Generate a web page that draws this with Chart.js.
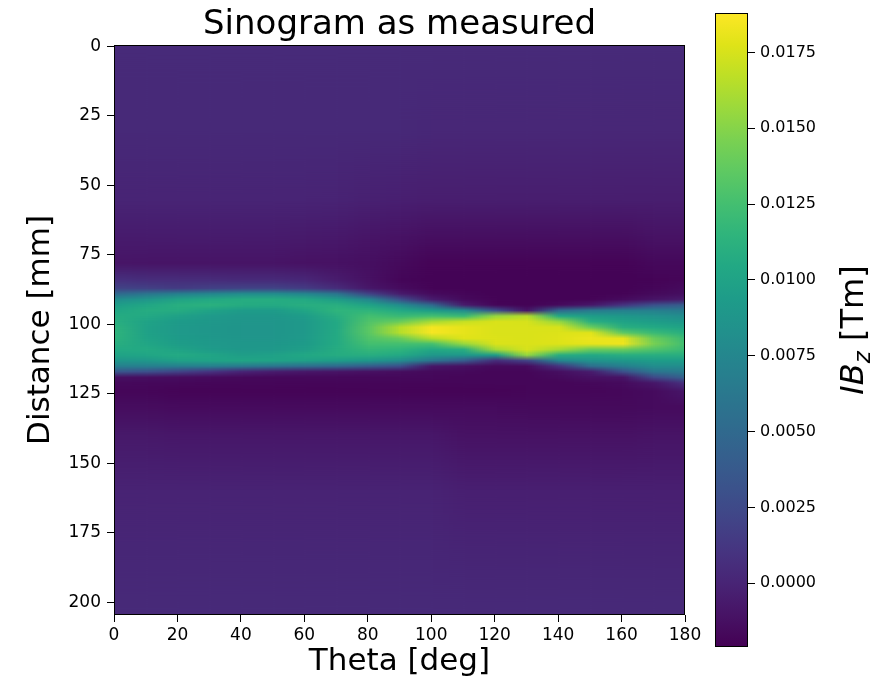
<!DOCTYPE html>
<html>
<head>
<meta charset="utf-8">
<script src="https://cdn.jsdelivr.net/npm/chart.js@4.4.0/dist/chart.umd.min.js"></script>
<style>
  html, body { margin: 0; padding: 0; background: #fff; }
  #wrap { position: relative; width: 879px; height: 684px; overflow: hidden; }
  #wrap canvas { position: absolute; top: 0; }
  #sino { left: 0; }
  #cbar { left: 690px; }
</style>
</head>
<body>
<div id="wrap">
  <canvas id="sino" width="879" height="684"></canvas>
  <canvas id="cbar" width="189" height="684"></canvas>
</div>
<script>
// Sinogram: one column per projection angle,
// one value per distance row. Values are in 1e-3 Tm.
const THETA = [0, 10, 20, 30, 40, 50, 60, 70, 80, 90, 100, 110, 120, 130, 140, 150, 160, 170, 180];
const DIST = [-0.5, 30, 55, 70, 78, 84, 87, 89, 91, 93, 95, 97, 99, 101, 103, 105, 107, 109, 111, 113, 115, 117, 119, 121, 124, 130, 140, 160, 204.5];
const UNIT = 1e-3;
const IBZ = [
  [0.4, 0.3, 0.0, -0.6, -0.9, 0.8, 2.0, 5.0, 8.0, 9.5, 10.3, 10.8, 11.0, 11.3, 11.5, 11.3, 11.0, 10.6, 10.0, 8.8, 7.0, 3.5, -1.2, -1.6, -1.8, -1.4, -0.7, -0.1, 0.4],
  [0.4, 0.3, 0.0, -0.6, -1.0, 0.6, 1.8, 6.0, 8.8, 10.3, 10.8, 10.5, 10.0, 9.8, 9.8, 10.0, 10.3, 10.6, 10.3, 9.0, 7.0, 3.0, -1.3, -1.7, -1.8, -1.4, -0.7, -0.1, 0.4],
  [0.4, 0.3, 0.0, -0.6, -1.0, 0.6, 1.5, 7.0, 10.0, 11.0, 10.8, 9.8, 9.3, 9.2, 9.2, 9.3, 9.5, 10.0, 10.6, 9.8, 7.0, 2.0, -1.4, -1.7, -1.9, -1.5, -0.8, -0.1, 0.4],
  [0.4, 0.3, 0.0, -0.6, -1.0, 0.5, 1.8, 7.5, 10.5, 11.2, 10.0, 9.2, 9.0, 8.9, 8.9, 9.0, 9.1, 9.3, 10.2, 10.0, 7.0, 1.0, -1.5, -1.8, -1.9, -1.5, -0.8, -0.1, 0.4],
  [0.4, 0.3, 0.0, -0.6, -1.0, 0.4, 2.0, 8.0, 10.8, 10.8, 9.4, 8.9, 8.8, 8.7, 8.7, 8.8, 8.9, 9.0, 9.6, 10.2, 6.5, 0.0, -1.6, -1.8, -1.9, -1.5, -0.8, -0.1, 0.4],
  [0.4, 0.3, 0.0, -0.6, -1.0, 0.4, 2.0, 8.0, 10.8, 10.6, 9.3, 8.9, 8.8, 8.8, 8.8, 8.8, 8.9, 9.1, 9.8, 10.0, 6.0, -0.5, -1.7, -1.8, -1.9, -1.5, -0.8, -0.1, 0.4],
  [0.4, 0.3, 0.0, -0.7, -1.1, 0.2, 1.5, 7.5, 10.5, 11.0, 10.3, 9.4, 9.1, 9.1, 9.1, 9.2, 9.3, 9.6, 10.4, 9.8, 5.5, -0.8, -1.7, -1.8, -1.9, -1.5, -0.8, -0.1, 0.4],
  [0.4, 0.3, -0.1, -0.8, -1.2, -0.5, 0.5, 6.0, 9.5, 11.0, 11.5, 11.0, 10.5, 10.5, 10.6, 10.6, 10.6, 10.8, 10.8, 9.5, 5.0, -1.0, -1.7, -1.8, -1.9, -1.5, -0.8, -0.1, 0.4],
  [0.4, 0.3, -0.2, -1.0, -1.3, -1.2, -0.8, 2.0, 7.5, 10.0, 11.5, 12.5, 13.0, 13.4, 13.4, 13.0, 12.5, 11.8, 11.0, 9.0, 4.0, -1.2, -1.7, -1.8, -1.9, -1.5, -0.8, -0.1, 0.4],
  [0.4, 0.3, -0.3, -1.2, -1.6, -1.8, -1.5, -0.5, 3.0, 8.0, 10.5, 12.0, 14.0, 16.5, 16.5, 14.0, 12.5, 11.5, 10.5, 8.0, 3.0, -1.4, -1.7, -1.8, -1.9, -1.5, -0.8, -0.1, 0.4],
  [0.4, 0.2, -0.4, -1.4, -1.9, -2.0, -1.9, -1.5, -0.5, 5.0, 9.5, 12.5, 16.0, 18.5, 18.6, 16.5, 12.5, 10.5, 9.0, 6.0, -0.8, -1.6, -1.7, -1.8, -1.9, -1.5, -0.8, -0.1, 0.4],
  [0.4, 0.2, -0.4, -1.4, -1.9, -2.0, -2.0, -1.8, -1.6, -0.5, 8.0, 12.0, 17.0, 18.0, 18.0, 17.8, 15.5, 11.0, 9.0, 4.0, -1.2, -1.7, -1.8, -1.8, -1.9, -1.5, -1.1, -0.3, 0.4],
  [0.4, 0.2, -0.4, -1.4, -1.9, -2.0, -2.0, -2.0, -1.9, -1.8, 3.0, 15.5, 17.6, 17.6, 17.6, 17.7, 17.6, 16.0, 9.5, 0.5, -1.6, -1.8, -1.8, -1.8, -1.9, -1.5, -1.1, -0.3, 0.4],
  [0.4, 0.2, -0.4, -1.4, -1.9, -2.0, -2.0, -2.0, -2.0, -2.0, -1.0, 16.5, 17.5, 17.6, 17.6, 17.6, 17.6, 17.5, 15.5, 2.0, -1.5, -1.8, -1.8, -1.8, -1.8, -1.6, -1.1, -0.3, 0.4],
  [0.4, 0.2, -0.4, -1.4, -1.9, -2.0, -2.0, -2.0, -2.0, -1.5, 5.0, 10.5, 15.5, 17.5, 17.7, 17.8, 17.7, 16.0, 11.0, 7.5, 1.0, -1.3, -1.6, -1.8, -1.8, -1.6, -1.1, -0.3, 0.4],
  [0.4, 0.2, -0.4, -1.4, -1.9, -2.0, -2.0, -2.0, -1.9, -0.8, 6.5, 9.5, 11.0, 14.0, 17.8, 18.2, 18.0, 14.0, 10.5, 8.5, 5.5, -0.5, -1.2, -1.7, -1.8, -1.6, -1.1, -0.3, 0.4],
  [0.4, 0.2, -0.4, -1.4, -1.9, -2.0, -2.0, -1.9, -1.5, 1.0, 7.0, 9.0, 10.0, 11.0, 13.5, 18.0, 18.3, 14.0, 11.0, 9.0, 7.0, 3.0, -1.0, -1.5, -1.7, -1.6, -1.1, -0.3, 0.4],
  [0.4, 0.2, -0.4, -1.2, -1.7, -1.9, -1.8, -1.6, -1.0, 3.0, 7.0, 8.5, 9.5, 10.5, 12.0, 14.0, 14.5, 13.0, 11.0, 9.5, 8.0, 6.0, 2.5, -0.8, -1.5, -1.5, -1.0, -0.3, 0.4],
  [0.4, 0.2, -0.4, -1.2, -1.7, -1.8, -1.5, -1.3, -0.5, 4.0, 6.5, 8.0, 9.0, 10.0, 11.0, 12.0, 12.3, 12.0, 11.0, 9.5, 8.0, 6.5, 4.5, 1.0, -0.8, -1.5, -1.0, -0.3, 0.4]
];

const X_TICKS = [0, 20, 40, 60, 80, 100, 120, 140, 160, 180];
const Y_TICKS = [0, 25, 50, 75, 100, 125, 150, 175, 200];
const CBAR_TICKS = [0, 0.0025, 0.005, 0.0075, 0.01, 0.0125, 0.015, 0.0175];
const VMIN = -0.0021;
const VMAX = 0.0188;

const FONT = "'DejaVu Sans', sans-serif";

// viridis colormap, sampled every 5 %
const VIRIDIS = [
  '#440154', '#471365', '#482475', '#463480', '#414487', '#3b528b', '#355f8d',
  '#2f6c8e', '#2a788e', '#25848e', '#21918c', '#1e9c89', '#22a884', '#2fb47c',
  '#44bf70', '#5ec962', '#7ad151', '#9bd93c', '#bddf26', '#dfe318', '#fde725'
];

function hexToRgb(h) {
  const n = parseInt(h.slice(1), 16);
  return [(n >> 16) & 255, (n >> 8) & 255, n & 255];
}

function viridis(v) {
  let t = (v - VMIN) / (VMAX - VMIN);
  t = Math.min(1, Math.max(0, t)) * (VIRIDIS.length - 1);
  const i = Math.min(Math.floor(t), VIRIDIS.length - 2);
  const f = t - i;
  const a = hexToRgb(VIRIDIS[i]);
  const b = hexToRgb(VIRIDIS[i + 1]);
  const c = a.map((av, k) => Math.round(av + (b[k] - av) * f));
  return `rgb(${c[0]},${c[1]},${c[2]})`;
}

function drawFrame(ctx, a) {
  ctx.save();
  ctx.strokeStyle = '#000';
  ctx.lineWidth = 1;
  ctx.strokeRect(a.left + 0.5, a.top + 0.5, a.right - a.left - 1, a.bottom - a.top - 1);
  ctx.restore();
}

// Paints the sinogram cells behind the frame, using the chart's own scales
const heatmapPlugin = {
  id: 'heatmap',
  beforeDatasetsDraw(chart) {
    const { ctx, chartArea: a, scales: { x, y } } = chart;
    const h = Math.round(a.bottom - a.top);
    const off = document.createElement('canvas');
    off.width = THETA.length;
    off.height = h;
    const octx = off.getContext('2d');
    const y0 = y.getPixelForValue(DIST[0]) - a.top;
    const y1 = y.getPixelForValue(DIST[DIST.length - 1]) - a.top;

    THETA.forEach((t, i) => {
      const g = octx.createLinearGradient(0, y0, 0, y1);
      DIST.forEach((d, r) => {
        const f = (y.getPixelForValue(d) - a.top - y0) / (y1 - y0);
        g.addColorStop(Math.min(1, Math.max(0, f)), viridis(IBZ[i][r] * UNIT));
      });
      octx.fillStyle = g;
      octx.fillRect(i, 0, 1, h);
    });

    const half = (THETA[1] - THETA[0]) / 2;
    const xl = x.getPixelForValue(THETA[0] - half);
    const xr = x.getPixelForValue(THETA[THETA.length - 1] + half);
    ctx.save();
    ctx.beginPath();
    ctx.rect(a.left, a.top, a.right - a.left, a.bottom - a.top);
    ctx.clip();
    ctx.imageSmoothingEnabled = true;
    ctx.drawImage(off, xl, a.top, xr - xl, h);
    ctx.restore();
  },
  afterDatasetsDraw(chart) {
    drawFrame(chart.ctx, chart.chartArea);
  },
  afterDraw(chart) {
    const { ctx, chartArea: a } = chart;
    ctx.save();
    ctx.fillStyle = '#000';
    ctx.font = `34px ${FONT}`;
    ctx.textAlign = 'center';
    ctx.textBaseline = 'alphabetic';
    ctx.fillText('Sinogram as measured', (a.left + a.right) / 2, 34);
    ctx.restore();
  }
};

// Colour bar fill and its label
const colorbarPlugin = {
  id: 'colorbar',
  beforeDatasetsDraw(chart) {
    const { ctx, chartArea: a, scales: { y } } = chart;
    const g = ctx.createLinearGradient(0, y.getPixelForValue(VMIN), 0, y.getPixelForValue(VMAX));
    VIRIDIS.forEach((c, i) => g.addColorStop(i / (VIRIDIS.length - 1), c));
    ctx.fillStyle = g;
    ctx.fillRect(a.left, a.top, a.right - a.left, a.bottom - a.top);
  },
  afterDatasetsDraw(chart) {
    drawFrame(chart.ctx, chart.chartArea);
  },
  afterDraw(chart) {
    const { ctx, chartArea: a } = chart;
    const parts = [
      { text: 'IB', font: `italic 32px ${FONT}`, dy: 0 },
      { text: 'z', font: `italic 23px ${FONT}`, dy: 7 },
      { text: ' [Tm]', font: `32px ${FONT}`, dy: 0 }
    ];
    ctx.save();
    let total = 0;
    parts.forEach(p => { ctx.font = p.font; p.w = ctx.measureText(p.text).width; total += p.w; });
    ctx.translate(162, (a.top + a.bottom) / 2);
    ctx.rotate(-Math.PI / 2);
    ctx.fillStyle = '#000';
    ctx.textBaseline = 'alphabetic';
    ctx.textAlign = 'left';
    let cx = -total / 2;
    parts.forEach(p => {
      ctx.font = p.font;
      ctx.fillText(p.text, cx, 11 + p.dy);
      cx += p.w;
    });
    ctx.restore();
  }
};

const tickGrid = {
  display: true,
  drawOnChartArea: false,
  drawTicks: true,
  tickLength: 7,
  tickColor: '#000',
  tickWidth: 1
};

new Chart(document.getElementById('sino'), {
  type: 'scatter',
  data: { datasets: [{ data: [] }] },
  options: {
    responsive: false,
    animation: false,
    devicePixelRatio: 1,
    layout: { padding: { left: 0, top: 45, right: 194, bottom: 0 } },
    plugins: { legend: { display: false }, tooltip: { enabled: false } },
    scales: {
      x: {
        type: 'linear',
        min: 0,
        max: 180,
        afterBuildTicks: s => { s.ticks = X_TICKS.map(v => ({ value: v })); },
        afterFit: s => { s.height = 69; s.paddingLeft = 0; s.paddingRight = 0; },
        grid: tickGrid,
        border: { display: false },
        ticks: { color: '#000', font: { family: FONT, size: 17 }, padding: 3, maxRotation: 0, autoSkip: false },
        title: { display: true, text: 'Theta [deg]', color: '#000', font: { family: FONT, size: 31 }, padding: { top: 0, bottom: 3 } }
      },
      y: {
        type: 'linear',
        reverse: true,
        min: -0.5,
        max: 204.5,
        afterBuildTicks: s => { s.ticks = Y_TICKS.map(v => ({ value: v })); },
        afterFit: s => { s.width = 114; s.paddingTop = 0; s.paddingBottom = 0; },
        grid: tickGrid,
        border: { display: false },
        ticks: { color: '#000', font: { family: FONT, size: 17 }, padding: 6, autoSkip: false },
        title: { display: true, text: 'Distance [mm]', color: '#000', font: { family: FONT, size: 31 }, padding: { top: 22, bottom: 0 } }
      }
    }
  },
  plugins: [heatmapPlugin]
});

new Chart(document.getElementById('cbar'), {
  type: 'scatter',
  data: { datasets: [{ data: [] }] },
  options: {
    responsive: false,
    animation: false,
    devicePixelRatio: 1,
    layout: { padding: { left: 25, top: 13, right: 0, bottom: 37 } },
    plugins: { legend: { display: false }, tooltip: { enabled: false } },
    scales: {
      x: { display: false, min: 0, max: 1 },
      y: {
        type: 'linear',
        position: 'right',
        min: VMIN,
        max: VMAX,
        afterBuildTicks: s => { s.ticks = CBAR_TICKS.map(v => ({ value: v })); },
        afterFit: s => { s.width = 131; s.paddingTop = 0; s.paddingBottom = 0; },
        grid: tickGrid,
        border: { display: false },
        ticks: { color: '#000', font: { family: FONT, size: 16 }, padding: 5, autoSkip: false, callback: v => v.toFixed(4) }
      }
    }
  },
  plugins: [colorbarPlugin]
});
</script>
</body>
</html>
